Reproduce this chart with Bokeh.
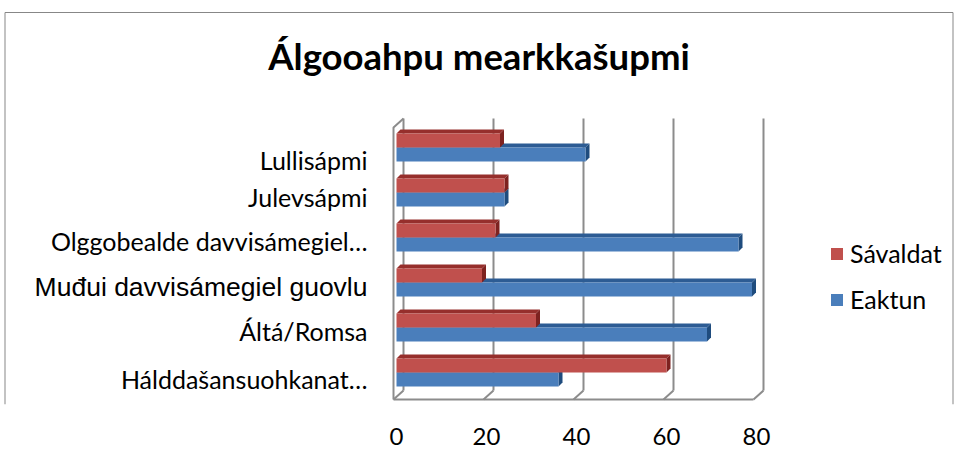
from bokeh.plotting import figure
from bokeh.models import Range1d, FixedTicker, Legend, LegendItem, ColumnDataSource
from bokeh.core.properties import value, field
from bokeh.embed import file_html
from bokeh.resources import INLINE

# ---------------- data ----------------
categories = ["Lullisápmi", "Julevsápmi", "Olggobealde davvisámegiel…",
              "Muđui davvisámegiel guovlu", "Áltá/Romsa", "Hálddašansuohkanat…"]
savaldat = [23, 24, 22, 19, 31, 60]
eaktun = [42, 24, 76, 79, 69, 36]
x_ticks = [0, 20, 40, 60, 80]
chart_title = "Álgooahpu mearkkašupmi"
series_names = ["Sávaldat", "Eaktun"]

# ---------------- style ----------------
label_fonts = ["Lato", "Lato", "Lato", "Liberation Sans", "Lato", "Lato"]
label_sizes = ["25px", "25px", "25px", "26.5px", "25px", "25px"]
label_dy = [12, 4, 3, 4, 3, 6]

RED, RED_TOP, RED_SIDE = "#C0504D", "#962F2C", "#7D2220"
BLUE, BLUE_TOP, BLUE_SIDE = "#4A7EBB", "#2D5C94", "#1F4C7E"
WALL = "#8C8C8C"

W, H = 957, 464
BOTTOM = 60
FH = H - BOTTOM
X0 = 396.0      # frame px of value 0
PXX = 4.5       # px per unit
Y0 = 394.5      # frame px (from top) of y = 0
PXY = 45.0      # px per category
BAR = 14 / PXY
DX, DY = 4 / PXX, 4 / PXY
WX, WY = 7 / PXX, 0.1           # back-wall offset
FRONT_X = -3 / PXX
TOP_Y = (Y0 - 118) / PXY

x_start, x_end = -X0 / PXX, (W - X0) / PXX
y_start, y_end = -(FH - Y0) / PXY, Y0 / PXY

p = figure(width=W, height=H, output_backend="svg", toolbar_location=None,
           x_range=Range1d(x_start, x_end), y_range=Range1d(y_start, y_end),
           min_border_left=0, min_border_right=0, min_border_top=0,
           min_border_bottom=BOTTOM, y_axis_location=None, title=None)
p.outline_line_color = None
p.xgrid.visible = False
p.ygrid.visible = False
p.background_fill_color = "white"
p.border_fill_color = "white"

n = len(categories)
yc = [n - 1 - i + 0.5 for i in range(n)]

# outer chart border
bx0, bx1 = (4.5 - X0) / PXX, (952.5 - X0) / PXX
by_top = (Y0 - 12) / PXY
p.line([bx0, bx0, bx1, bx1], [y_start, by_top, by_top, y_start], line_color="#878787", line_width=1)

# back wall gridlines + floor
for t in x_ticks:
    p.line([t + WX, t + WX], [WY, TOP_Y], line_color=WALL, line_width=2)
    p.line([t + WX, t + FRONT_X], [WY, -WY], line_color=WALL, line_width=2)
p.line([x_ticks[0] + FRONT_X, x_ticks[-1] + FRONT_X], [-WY, -WY], line_color=WALL, line_width=2)
# left wall front edge
p.line([x_ticks[0] + FRONT_X, x_ticks[0] + FRONT_X, x_ticks[0] + WX],
       [-WY, TOP_Y - 9 / PXY, TOP_Y], line_color=WALL, line_width=2)


def bar3d(vals, bottoms, front, top, side):
    tops = [b + BAR for b in bottoms]
    top_xs = [[0, v, v + DX, DX] for v in vals]
    top_ys = [[t, t, t + DY, t + DY] for t in tops]
    side_xs = [[v, v, v + DX, v + DX] for v in vals]
    side_ys = [[b, t, t + DY, b + DY] for b, t in zip(bottoms, tops)]
    p.patches(top_xs, top_ys, fill_color=top, line_color=None)
    p.patches(side_xs, side_ys, fill_color=side, line_color=None)
    return p.quad(left=[0] * len(vals), right=vals, bottom=bottoms, top=tops,
                  fill_color=front, line_color=None)


r_blue = bar3d(eaktun, [c - BAR for c in yc], BLUE, BLUE_TOP, BLUE_SIDE)
r_red = bar3d(savaldat, yc, RED, RED_TOP, RED_SIDE)

# category labels
src = ColumnDataSource(dict(x=[0] * n, y=yc, text=categories, font=label_fonts,
                            size=label_sizes, dy=label_dy))
p.text(x="x", y="y", text="text", source=src, x_offset=-29, y_offset="dy",
       text_align="right", text_baseline="middle", text_font=field("font"),
       text_font_size=field("size"), text_color="black")

# title
p.text(x=[(bx0 + bx1) / 2], y=[(Y0 - 55) / PXY], text=[chart_title],
       text_align="center", text_baseline="middle", text_font=value("Lato"),
       text_font_style="bold", text_font_size="36.5px", text_color="black")

# x axis
ax = p.xaxis[0]
ax.ticker = FixedTicker(ticks=x_ticks)
ax.axis_line_color = None
ax.major_tick_line_color = None
ax.minor_tick_line_color = None
ax.major_label_text_font = "Lato"
ax.major_label_text_font_size = "24px"
ax.major_label_text_color = "black"
ax.major_label_standoff = 17

# legend
legend = Legend(items=[LegendItem(label=series_names[0], renderers=[r_red]),
                       LegendItem(label=series_names[1], renderers=[r_blue])],
                location=(829, 90), padding=0, margin=0, spacing=16,
                glyph_width=15, glyph_height=15, label_height=30,
                label_standoff=6, label_text_font="Lato",
                label_text_font_size="25px", label_text_color="black",
                border_line_color=None, background_fill_alpha=0)
p.add_layout(legend, "center")

open("out.html", "w").write(file_html(p, INLINE))
